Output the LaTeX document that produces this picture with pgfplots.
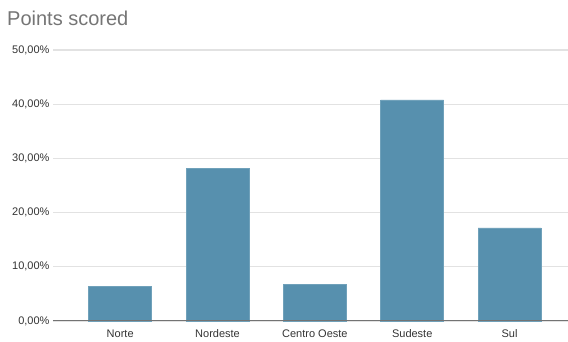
\documentclass[border=0pt]{standalone}
\usepackage{fontspec}
\setmainfont{Liberation Sans}
\usepackage{pgfplots}
\pgfplotsset{compat=1.18}
\definecolor{barc}{HTML}{5790AE}
\definecolor{gridc}{HTML}{E2E2E2}
\definecolor{titlec}{HTML}{757575}
\definecolor{labc}{HTML}{333333}
\begin{document}
\begin{tikzpicture}
\useasboundingbox (-53pt,-21pt) rectangle (515pt,321pt);
\begin{axis}[
  anchor=south west, at={(0pt,0pt)},
  scale only axis, width=515pt, height=271pt,
  xmin=-0.69, xmax=4.6, ymin=0, ymax=50,
  ybar, bar width=63pt,
  xtick={0,1,2,3,4},
  xticklabels={Norte,Nordeste,Centro Oeste,Sudeste,Sul},
  ytick={0,10,20,30,40,50},
  yticklabels={0{,}00\%,10{,}00\%,20{,}00\%,30{,}00\%,40{,}00\%,50{,}00\%},
  ymajorgrids, grid style={gridc, line width=1.2pt},
  axis line style={draw=none},
  major tick style={draw=none},
  tick label style={font=\fontsize{11}{12}\selectfont, text=labc},
  xticklabel style={yshift=-1pt},
  clip=false,
]
\addplot[fill=barc, draw=barc!85!white, line width=0.5pt] coordinates {(0,6.4) (1,28.1) (2,6.8) (3,40.8) (4,17.2)};
\draw[color=gray!90!black, line width=1pt] (axis cs:-0.69,0) -- (axis cs:4.6,0);
\end{axis}
\node[anchor=base west, text=titlec, font=\fontsize{20}{22}\selectfont, inner sep=0pt] at (-46pt,295pt) {Points scored};
\end{tikzpicture}
\end{document}
